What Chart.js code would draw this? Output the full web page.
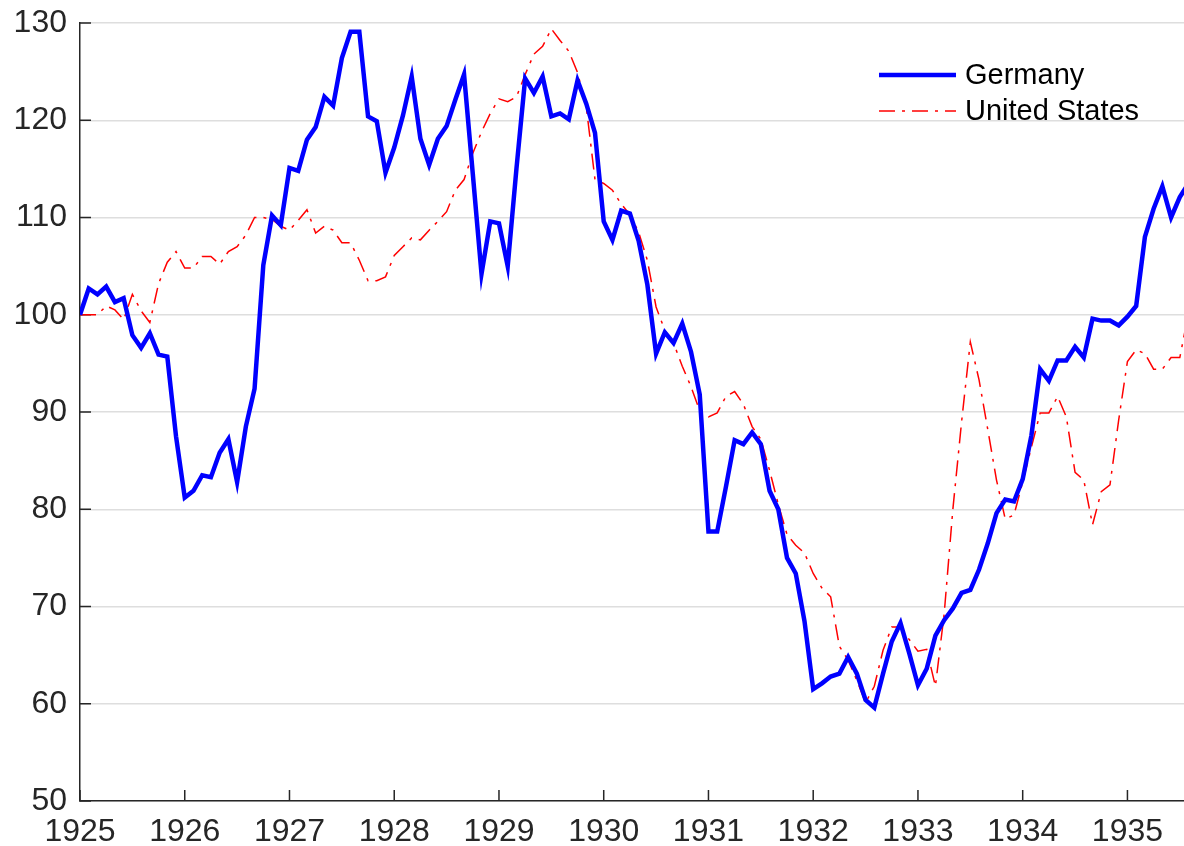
<html>

<head>
    <style>
        body { margin: 0; background: #ffffff; }
    </style>
</head>

<body>
    <script src="https://cdn.jsdelivr.net/npm/chart.js@4.4.1/dist/chart.umd.min.js"></script>
    <canvas id="myChart" width="1184" height="846"></canvas>
    <script>
        // monthly index, January 1925 = 100
        var startYear = 1925;
        var endYear = 1935.54;
        var yearTicks = [1925, 1926, 1927, 1928, 1929, 1930, 1931, 1932, 1933, 1934, 1935];
        var valueTicks = [50, 60, 70, 80, 90, 100, 110, 120, 130];
        var seriesNames = ["Germany", "United States"];

        var germany = [
            100.0, 102.7, 102.1, 102.9, 101.3, 101.7, 97.9, 96.6, 98.1, 95.9, 95.7, 87.5,
            81.2, 81.9, 83.5, 83.3, 85.8, 87.2, 82.8, 88.5, 92.4, 105.1, 110.2, 109.2,
            115.1, 114.8, 118.0, 119.3, 122.4, 121.5, 126.4, 129.1, 129.1, 120.4, 119.9, 114.6,
            117.2, 120.5, 124.5, 118.1, 115.4, 118.1, 119.4, 122.1, 124.7, 114.5, 104.2, 109.6,
            109.4, 105.0, 115.0, 124.3, 122.8, 124.5, 120.4, 120.7, 120.1, 124.1, 121.7, 118.7,
            109.6, 107.7, 110.7, 110.4, 107.6, 103.1, 96.0, 98.2, 97.1, 99.1, 96.2, 91.8,
            77.7, 77.7, 82.3, 87.1, 86.7, 87.9, 86.7, 81.9, 80.0, 75.0, 73.4, 68.5,
            61.5, 62.1, 62.8, 63.1, 64.8, 63.1, 60.4, 59.6, 63.1, 66.4, 68.3, 65.2,
            61.9, 63.6, 67.0, 68.6, 69.8, 71.4, 71.7, 73.8, 76.5, 79.6, 81.0, 80.8,
            83.1, 87.6, 94.4, 93.2, 95.3, 95.3, 96.7, 95.6, 99.6, 99.4, 99.4, 98.9,
            99.8, 100.9, 108.0, 110.9, 113.2, 110.0, 112.1, 113.5
        ];

        var unitedStates = [
            100.0, 100.0, 100.0, 100.9, 100.5, 99.5, 102.1, 100.4, 99.2, 103.2, 105.4, 106.5,
            104.8, 104.8, 106.0, 106.0, 105.2, 106.5, 107.0, 108.2, 110.0, 110.0, 109.8, 109.1,
            108.7, 109.7, 110.8, 108.4, 109.1, 108.7, 107.4, 107.4, 105.6, 103.5, 103.5, 103.9,
            106.1, 107.0, 107.9, 107.7, 108.7, 109.6, 110.6, 112.8, 113.9, 116.6, 118.8, 120.7,
            122.2, 121.9, 122.4, 124.7, 126.8, 127.6, 129.4, 128.2, 127.1, 124.9, 121.4, 113.9,
            113.5, 112.8, 111.4, 110.3, 108.5, 105.6, 100.8, 98.4, 97.1, 94.7, 92.6, 90.1,
            89.5, 89.9, 91.6, 92.1, 90.8, 88.5, 87.2, 84.0, 80.5, 77.4, 76.3, 75.5,
            73.4, 71.9, 71.0, 65.9, 64.5, 62.4, 60.1, 61.8, 65.5, 67.9, 67.9, 66.6,
            65.4, 65.6, 61.8, 69.2, 80.0, 89.0, 97.2, 93.3, 88.2, 83.0, 79.0, 79.4,
            82.8, 86.4, 89.9, 89.9, 91.6, 89.5, 83.8, 83.0, 78.4, 81.8, 82.5, 89.2,
            95.2, 96.4, 96.0, 94.4, 94.4, 95.6, 95.6, 100.2
        ];

        var usDash = [16, 7, 3, 7];
        var axisColor = "#262626";

        function toPoints(values) {
            return values.map(function (v, i) {
                return { x: startYear + i / 12, y: v };
            });
        }

        // tick marks pointing into the plot, like the axes box of the original figure
        var innerTicks = {
            id: "innerTicks",
            beforeDatasetsDraw: function (chart) {
                var ctx = chart.ctx;
                var area = chart.chartArea;
                var xs = chart.scales.x;
                var ys = chart.scales.y;
                ctx.save();
                ctx.strokeStyle = axisColor;
                ctx.lineWidth = 1.5;
                ctx.beginPath();
                yearTicks.forEach(function (t) {
                    var px = xs.getPixelForValue(t);
                    ctx.moveTo(px, area.bottom);
                    ctx.lineTo(px, area.bottom - 11);
                });
                valueTicks.forEach(function (t) {
                    var py = ys.getPixelForValue(t);
                    ctx.moveTo(area.left, py);
                    ctx.lineTo(area.left + 11, py);
                });
                ctx.stroke();
                ctx.restore();
            }
        };

        // legend sitting inside the top right of the plot, no box
        var insideLegend = {
            id: "insideLegend",
            afterDraw: function (chart) {
                var ctx = chart.ctx;
                var area = chart.chartArea;
                var x1 = area.right - 305;
                var x2 = area.right - 228;
                var rows = [area.top + 52, area.top + 88];
                ctx.save();
                chart.data.datasets.forEach(function (ds, i) {
                    var y = rows[i];
                    ctx.beginPath();
                    ctx.strokeStyle = ds.borderColor;
                    ctx.lineWidth = ds.borderWidth;
                    ctx.setLineDash(ds.borderDash || []);
                    ctx.moveTo(x1, y);
                    ctx.lineTo(x2, y);
                    ctx.stroke();
                    ctx.setLineDash([]);
                    ctx.fillStyle = "#000000";
                    ctx.font = "29px 'Liberation Sans', Arial, sans-serif";
                    ctx.textBaseline = "middle";
                    ctx.textAlign = "left";
                    ctx.fillText(ds.label, area.right - 219, y + 1);
                });
                ctx.restore();
            }
        };

        new Chart("myChart", {
            type: "line",
            data: {
                datasets: [{
                    label: seriesNames[0],
                    data: toPoints(germany),
                    borderColor: "#0000ff",
                    borderWidth: 4.5,
                    pointRadius: 0,
                    tension: 0
                }, {
                    label: seriesNames[1],
                    data: toPoints(unitedStates),
                    borderColor: "#ff0000",
                    borderWidth: 1.5,
                    borderDash: usDash,
                    pointRadius: 0,
                    tension: 0
                }]
            },
            options: {
                responsive: false,
                animation: false,
                layout: { padding: { top: 23, right: 0, left: 0, bottom: 0 } },
                plugins: {
                    legend: { display: false },
                    tooltip: { enabled: false }
                },
                scales: {
                    x: {
                        type: "linear",
                        min: startYear,
                        max: endYear,
                        afterFit: function (scale) {
                            scale.height = 45;
                            scale.paddingLeft = 0;
                            scale.paddingRight = 0;
                        },
                        grid: { display: false, drawTicks: false },
                        border: { color: axisColor, width: 1.5 },
                        ticks: {
                            stepSize: 1,
                            includeBounds: false,
                            autoSkip: false,
                            maxRotation: 0,
                            padding: 12,
                            color: axisColor,
                            font: { family: "'Liberation Sans', Arial, sans-serif", size: 32 },
                            callback: function (v) { return String(v); }
                        }
                    },
                    y: {
                        min: 50,
                        max: 130,
                        afterFit: function (scale) {
                            scale.width = 80;
                            scale.paddingTop = 0;
                            scale.paddingBottom = 0;
                        },
                        grid: { color: "#dedede", lineWidth: 1.5, drawTicks: false },
                        border: { color: axisColor, width: 1.5 },
                        ticks: {
                            stepSize: 10,
                            padding: 13,
                            color: axisColor,
                            font: { family: "'Liberation Sans', Arial, sans-serif", size: 32 }
                        }
                    }
                }
            },
            plugins: [innerTicks, insideLegend]
        });
    </script>
</body>

</html>
